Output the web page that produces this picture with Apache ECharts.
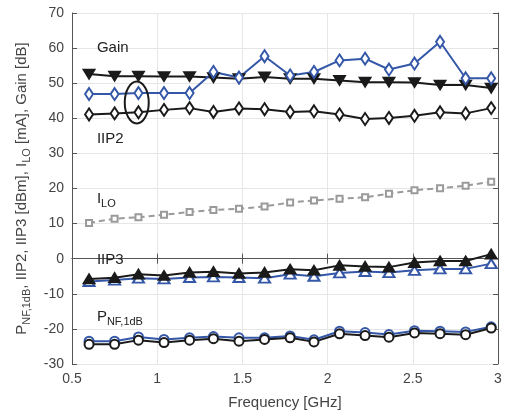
<!DOCTYPE html>
<html><head><meta charset="utf-8">
<script src="https://cdn.jsdelivr.net/npm/echarts@6/dist/echarts.min.js"></script>
<style>html,body{margin:0;padding:0;background:#fff}#c{width:505px;height:415px}</style>
</head><body><div id="c"></div>
<script>
const freq = [0.6, 0.75, 0.89, 1.04, 1.19, 1.33, 1.48, 1.63, 1.78, 1.92, 2.07, 2.22, 2.36, 2.51, 2.66, 2.81, 2.96];
const gainBlue = [46.9, 46.9, 47.2, 47.2, 47.2, 53.2, 51.6, 57.7, 52.2, 53.2, 56.5, 57.0, 53.9, 55.6, 61.8, 51.4, 51.4];
const gainBlack = [52.6, 52.0, 52.0, 51.9, 51.9, 51.6, 51.3, 51.8, 51.3, 51.3, 50.8, 50.3, 50.3, 50.2, 49.5, 49.5, 48.6];
const iip2 = [41.1, 41.4, 41.7, 42.4, 42.9, 41.8, 42.8, 42.6, 41.8, 42.0, 41.1, 39.8, 40.1, 40.7, 41.7, 41.4, 42.9];
const ilo = [10.2, 11.4, 11.8, 12.5, 13.3, 13.9, 14.2, 14.9, 16.0, 16.6, 17.1, 17.5, 18.5, 19.5, 20.1, 20.8, 21.9];
const iip3Black = [-5.75, -5.4, -4.4, -4.8, -3.9, -3.7, -4.2, -3.9, -3.0, -3.3, -1.9, -2.2, -2.4, -1.1, -0.65, -0.65, 1.3];
const iip3Blue = [-6.5, -6.1, -5.55, -5.75, -5.35, -5.2, -5.35, -5.55, -4.4, -5.0, -4.05, -3.65, -3.95, -3.3, -2.9, -2.9, -1.4];
const pnfBlue = [-23.5, -23.5, -22.3, -23.0, -22.55, -22.2, -22.55, -22.55, -22.0, -23.1, -20.65, -21.05, -21.6, -20.5, -20.65, -20.85, -19.4];
const pnfBlack = [-24.4, -24.4, -23.2, -23.9, -23.2, -22.8, -23.5, -23.0, -22.55, -23.7, -21.4, -21.9, -22.35, -21.15, -21.35, -21.65, -19.75];

const zip = a => freq.map((f, i) => [f, a[i]]);
const BLUE = '#3457a8', BLACK = '#1a1a1a', GREY = '#9a9a9a';
const FONT = 'Liberation Sans, Arial, sans-serif';
const chart = echarts.init(document.getElementById('c'));

function ser(data, color, symbol, size, opts) {
  return Object.assign({
    type: 'line', data: zip(data), symbol: symbol, symbolSize: size,
    lineStyle: { color: color, width: 2 },
    itemStyle: { color: color, borderColor: color, borderWidth: 1.8 },
    emphasis: { disabled: true }, z: 3
  }, opts || {});
}
const axisCommon = {
  type: 'value',
  axisLine: { show: true, lineStyle: { color: '#555', width: 1 } },
  axisTick: { show: true, inside: true, length: 5, lineStyle: { color: '#555' } },
  axisLabel: { color: '#444', fontSize: 14, fontFamily: FONT },
  splitLine: { show: true, lineStyle: { color: '#e6e6e6', width: 1 } }
};
const richA = (c) => ({ fontSize: 15, color: c, fontFamily: FONT, verticalAlign: 'top', lineHeight: 18 });
const richS = (c) => ({ fontSize: 11, color: c, fontFamily: FONT, verticalAlign: 'bottom', lineHeight: 12, padding: [11, 0, 0, 0] });
chart.setOption({
  animation: false,
  grid: { left: 72, right: 7, top: 13, bottom: 49 },
  xAxis: [
    Object.assign({}, axisCommon, { min: 0.5, max: 3, interval: 0.5, position: 'bottom',
      name: 'Frequency [GHz]', nameLocation: 'middle', nameGap: 31,
      nameTextStyle: { color: '#444', fontSize: 15, fontFamily: FONT },
      axisLabel: { color: '#444', fontSize: 14, fontFamily: FONT, margin: 8 } }),
    Object.assign({}, axisCommon, { min: 0.5, max: 3, interval: 0.5, position: 'top',
      axisLabel: { show: false }, splitLine: { show: false } })
  ],
  yAxis: [
    Object.assign({}, axisCommon, { min: -30, max: 70, interval: 10, position: 'left',
      name: '{a|P}{s|NF,1dB}{a|, IIP2, IIP3 [dBm], I}{s|LO}{a| [mA], Gain [dB]}',
      nameLocation: 'middle', nameGap: 40, nameRotate: 90,
      nameTextStyle: { color: '#444', fontFamily: FONT, rich: { a: richA('#444'), s: richS('#444') } },
      axisLabel: { color: '#444', fontSize: 14, fontFamily: FONT, margin: 8 } }),
    Object.assign({}, axisCommon, { min: -30, max: 70, interval: 10, position: 'right',
      axisLabel: { show: false }, splitLine: { show: false } })
  ],
  series: [
    ser(gainBlack, BLACK, 'triangle', [11, 9], { symbolRotate: 180 }),
    ser(gainBlue, BLUE, 'emptyDiamond', [8, 12]),
    ser(iip2, BLACK, 'emptyDiamond', [8, 12]),
    ser(ilo, GREY, 'emptyRect', 6, { lineStyle: { color: GREY, width: 2, type: [6, 4] } }),
    ser(iip3Blue, BLUE, 'emptyTriangle', [11, 9]),
    ser(iip3Black, BLACK, 'triangle', [11, 9]),
    ser(pnfBlue, BLUE, 'emptyCircle', 9),
    ser(pnfBlack, BLACK, 'emptyCircle', 9)
  ]
});

const P = (x, y) => chart.convertToPixel({ gridIndex: 0 }, [x, y]);
const txt = (x, y, text, rich) => {
  const p = P(x, y);
  return { type: 'text', x: p[0], y: p[1], z: 10,
    style: { text: text, fill: '#222', font: '15px ' + FONT, verticalAlign: 'middle', align: 'left', rich: rich } };
};
const subRich = { a: Object.assign(richA('#222'), { fill: '#222' }), s: Object.assign(richS('#222'), { fill: '#222' }) };
const ec = P(0.88, 44.5);
chart.setOption({
  graphic: [
    txt(0.646, 60, 'Gain'),
    txt(0.646, 34.2, 'IIP2'),
    txt(0.646, 16.5, '{a|I}{s|LO}', subRich),
    txt(0.646, -0.3, 'IIP3'),
    txt(0.646, -17.0, '{a|P}{s|NF,1dB}', subRich),
    { type: 'ellipse', z: 10, shape: { cx: ec[0], cy: ec[1], rx: 12, ry: 21 },
      style: { fill: 'none', stroke: BLACK, lineWidth: 2 } }
  ]
});
</script></body></html>
